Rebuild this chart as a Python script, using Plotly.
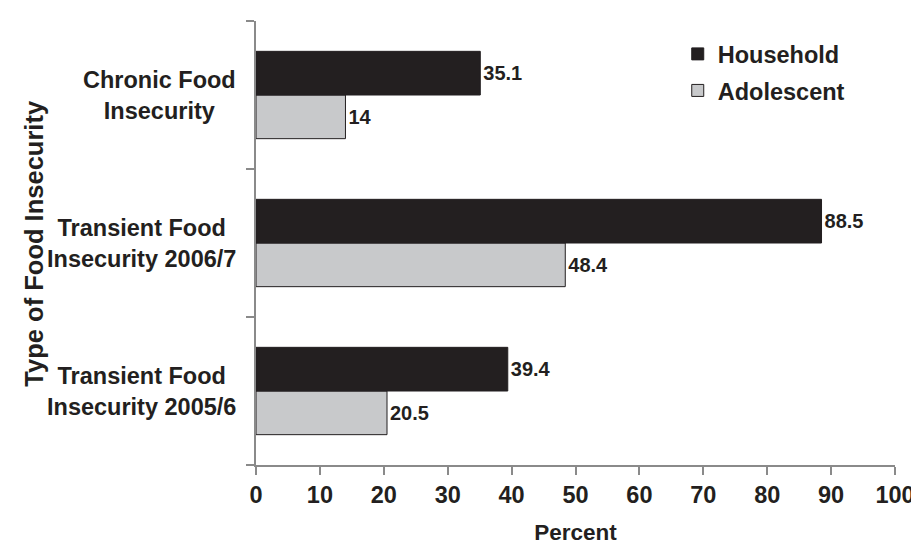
import plotly.graph_objects as go

# Data (bottom to top on the chart)
categories = ["Transient Food Insecurity 2005/6",
              "Transient Food Insecurity 2006/7",
              "Chronic Food Insecurity"]
category_labels = ["Transient Food<br>Insecurity 2005/6",
                   "Transient Food<br>Insecurity 2006/7",
                   "Chronic Food<br>Insecurity"]
household = [39.4, 88.5, 35.1]
adolescent = [20.5, 48.4, 14]
x_ticks = [0, 10, 20, 30, 40, 50, 60, 70, 80, 90, 100]

FONT = "Liberation Sans, Arial, sans-serif"
AXIS = "#8a8a8a"
INK = "#231f20"

fig = go.Figure()
fig.add_trace(go.Bar(
    y=categories, x=adolescent, orientation="h", name="Adolescent",
    marker=dict(color="#c8c9cb", line=dict(color=INK, width=1)),
    text=[str(v) for v in adolescent], textposition="outside",
    textfont=dict(family=FONT, size=20, color=INK, weight="bold"),
    cliponaxis=False, legendgroup="a", legendrank=2,
))
fig.add_trace(go.Bar(
    y=categories, x=household, orientation="h", name="Household",
    marker=dict(color=INK, line=dict(color=INK, width=1)),
    text=[str(v) for v in household], textposition="outside",
    textfont=dict(family=FONT, size=20, color=INK, weight="bold"),
    cliponaxis=False, legendgroup="h", legendrank=1,
))

annotations = []
for cat, lab in zip(categories, category_labels):
    annotations.append(dict(
        x=-0.028, xref="paper", y=cat, yref="y", text=lab,
        xanchor="right", yanchor="middle", align="center", showarrow=False,
        font=dict(family=FONT, size=23.5, color=INK, weight="bold"),
    ))
annotations.append(dict(
    x=-0.348, xref="paper", y=0.5, yref="paper", text="Type of Food Insecurity",
    textangle=-90, xanchor="center", yanchor="middle", showarrow=False,
    font=dict(family=FONT, size=25.5, color=INK, weight="bold"),
))

fig.update_layout(
    width=919, height=545,
    margin=dict(l=248, r=24, t=13, b=81),
    paper_bgcolor="white", plot_bgcolor="white",
    barmode="group", bargap=0.41, bargroupgap=0,
    font=dict(family=FONT, color=INK),
    showlegend=True,
    legend=dict(
        x=0.66, y=0.975, xanchor="left", yanchor="top",
        traceorder="grouped", tracegroupgap=3,
        font=dict(family=FONT, size=23.5, color=INK, weight="bold"),
        bgcolor="rgba(0,0,0,0)",
    ),
    annotations=annotations,
    xaxis=dict(
        range=[0, 100], tickvals=x_ticks, ticktext=[str(t) for t in x_ticks],
        showgrid=False, zeroline=False,
        showline=True, linecolor=AXIS, linewidth=1.5,
        ticks="outside", ticklen=8, tickcolor=AXIS, tickwidth=1.5,
        tickfont=dict(family=FONT, size=23.5, color=INK, weight="bold"),
        title=dict(text="Percent", standoff=17,
                   font=dict(family=FONT, size=22.5, color=INK, weight="bold")),
    ),
    yaxis=dict(
        type="category", categoryorder="array", categoryarray=categories,
        range=[-0.5, 2.5], tickson="boundaries",
        showgrid=False, zeroline=False, showticklabels=False,
        showline=True, linecolor=AXIS, linewidth=1.5,
        ticks="outside", ticklen=8, tickcolor=AXIS, tickwidth=1.5,
    ),
)

fig.write_html("out.html")
